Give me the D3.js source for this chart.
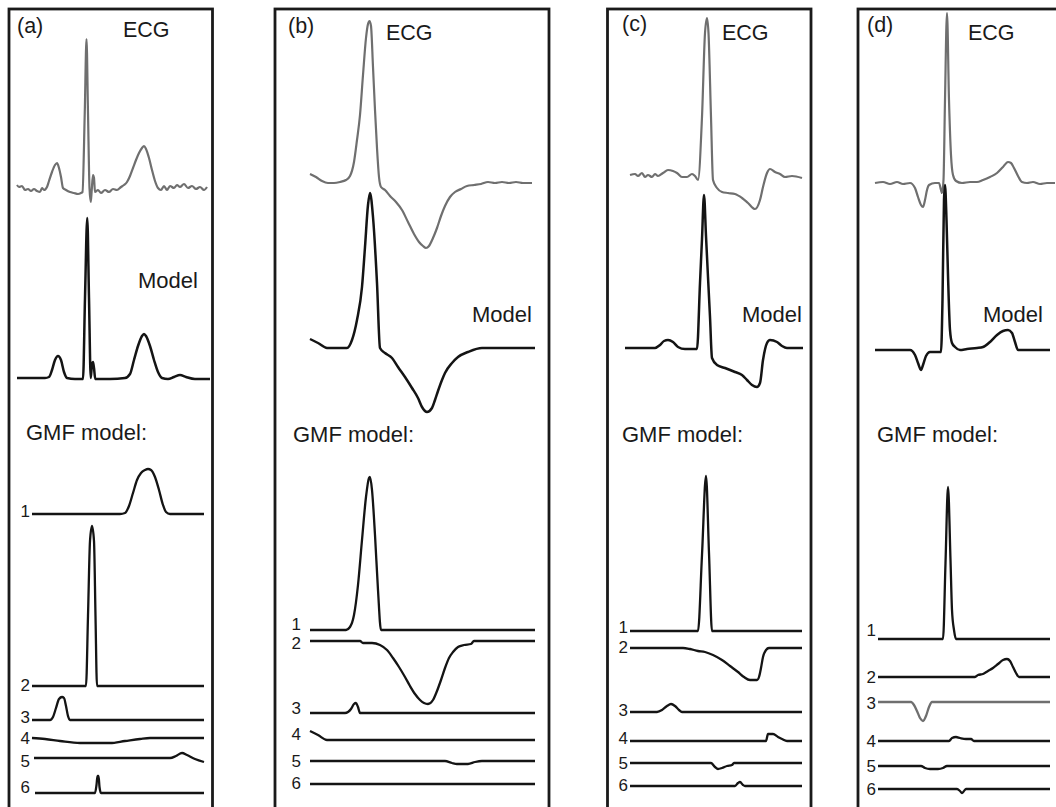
<!DOCTYPE html>
<html>
<head>
<meta charset="utf-8">
<script src="https://cdn.jsdelivr.net/npm/d3@7"></script>
<style>
  html, body { margin: 0; padding: 0; background: #fff; }
  svg { display: block; }
  text { font-family: "Liberation Sans", Arial, Helvetica, sans-serif; fill: #1a1a1a; }
</style>
</head>
<body>
<svg id="chart" width="1056" height="807"></svg>
<script>
// ---- Data: time in ms, amplitude in mV (relative to each trace's baseline) ----
const panelTags = ["(a)", "(b)", "(c)", "(d)"];
const componentLabels = ["1", "2", "3", "4", "5", "6"];

// Panel (a)
const ecgA = [[0,0.03],[8,0.01],[20,0.02],[32,-0.02],[44,-0.01],[56,-0.03],[68,-0.01],[80,-0.03],[92,-0.04],[100,0],[108,-0.02],[120,0.01],[128,0.07],[140,0.16],[152,0.23],[160,0.25],[168,0.2],[176,0.11],[184,0],[196,-0.02],[212,-0.04],[228,-0.05],[244,-0.06],[256,-0.05],[262,-0.04],[271,0.75],[278,1.49],[284,0.75],[290,0.0],[295,-0.14],[299,-0.02],[304,0.13],[308,0.1],[312,-0.04],[324,-0.02],[336,-0.05],[352,-0.02],[368,-0.04],[384,-0.01],[400,-0.02],[416,0.01],[428,0.03],[440,0.06],[452,0.12],[464,0.2],[476,0.28],[488,0.35],[500,0.4],[508,0.42],[516,0.39],[528,0.3],[540,0.18],[552,0.07],[564,0],[576,-0.02],[588,0.02],[600,-0.02],[612,0.02],[628,0],[640,0.03],[652,0.01],[668,0.04],[684,0],[700,0.02],[716,-0.01],[732,0.01],[748,-0.02],[760,0.01]];
const modelA = [[0,0],[52,0],[112,0],[128,0.01],[140,0.08],[152,0.18],[164,0.22],[176,0.18],[188,0.06],[200,0],[232,-0.01],[264,-0.01],[272,0.8],[281,1.6],[288,0.8],[295,0],[300,0.14],[304,0.16],[308,0.1],[313,-0.01],[372,-0.01],[432,0],[452,0.04],[468,0.18],[484,0.32],[500,0.42],[508,0.44],[516,0.42],[532,0.32],[548,0.18],[564,0.06],[580,0],[604,-0.01],[628,0.01],[652,0.03],[676,0.01],[712,-0.01],[772,-0.01]];
const gmfA = [
  [[60,0],[412,0],[432,0.01],[448,0.08],[464,0.21],[480,0.34],[496,0.41],[512,0.44],[524,0.45],[536,0.44],[552,0.37],[568,0.24],[584,0.09],[596,0.02],[612,0],[748,0]],
  [[60,0],[276,0],[284,0.7],[292,1.45],[300,1.6],[308,1.45],[314,0.7],[320,0],[748,0]],
  [[60,0],[132,0],[144,0.03],[156,0.12],[168,0.21],[180,0.23],[188,0.22],[196,0.14],[204,0.04],[212,0],[748,0]],
  [[60,0],[112,-0.01],[172,-0.03],[252,-0.05],[372,-0.05],[432,-0.03],[492,-0.01],[532,0],[748,0]],
  [[68,0],[612,0],[636,0.02],[660,0.05],[680,0.03],[712,-0.01],[748,-0.04]],
  [[72,0],[312,0],[318,0.08],[322,0.17],[326,0.17],[330,0.06],[336,0],[748,0]]
];

// Panel (b)
const ecgB = [[0,0.09],[24,0.06],[48,0.02],[72,0],[96,0],[120,0.01],[144,0.03],[160,0.07],[176,0.21],[188,0.43],[200,0.68],[212,1.08],[224,1.45],[232,1.59],[238,1.62],[244,1.57],[252,1.16],[260,0.73],[268,0.35],[276,0.06],[284,-0.04],[300,-0.07],[320,-0.13],[344,-0.19],[368,-0.27],[392,-0.39],[416,-0.51],[436,-0.59],[452,-0.63],[464,-0.65],[476,-0.63],[492,-0.55],[508,-0.45],[524,-0.33],[540,-0.23],[560,-0.14],[580,-0.09],[604,-0.06],[628,-0.03],[656,-0.02],[684,-0.01],[712,0.01],[740,0],[768,0.01],[796,0],[824,0.01],[852,0],[888,0]];
const modelB = [[0,0.09],[32,0.05],[68,0],[148,0],[168,0.08],[188,0.28],[208,0.61],[220,1.01],[232,1.43],[240,1.55],[252,1.31],[268,0.65],[280,0],[300,-0.05],[328,-0.1],[352,-0.19],[380,-0.29],[408,-0.4],[432,-0.5],[448,-0.59],[468,-0.64],[488,-0.6],[500,-0.52],[512,-0.43],[528,-0.32],[540,-0.25],[568,-0.15],[592,-0.09],[632,-0.04],[688,0],[900,0]];
const gmfB = [
  [[0,0],[144,0],[160,0.03],[176,0.15],[192,0.45],[208,0.9],[224,1.33],[236,1.52],[240,1.53],[248,1.4],[260,0.95],[272,0.4],[284,0],[900,0]],
  [[0,0],[200,0],[212,-0.02],[248,-0.02],[280,-0.04],[308,-0.09],[332,-0.17],[356,-0.26],[380,-0.36],[400,-0.45],[420,-0.53],[440,-0.59],[456,-0.62],[472,-0.63],[492,-0.59],[508,-0.5],[524,-0.39],[540,-0.27],[556,-0.17],[572,-0.11],[592,-0.06],[616,-0.04],[644,-0.03],[656,0],[900,0]],
  [[0,0],[140,0],[152,0.01],[164,0.04],[176,0.09],[184,0.1],[192,0.06],[200,0],[900,0]],
  [[0,0.09],[32,0.05],[68,0],[900,0]],
  [[0,0],[540,0],[568,-0.02],[588,-0.03],[632,-0.03],[660,-0.01],[688,0],[900,0]],
  [[0,0],[900,0]]
];

// Panel (c)
const ecgC = [[20,0.01],[40,0.02],[52,0],[68,0.03],[80,-0.01],[92,0.01],[108,-0.01],[120,0.02],[132,0],[152,0.03],[172,0.06],[192,0.05],[208,0.03],[228,-0.01],[248,-0.01],[268,0.02],[280,0],[292,-0.04],[308,0.59],[320,1.43],[328,1.58],[334,1.43],[344,0.59],[352,-0.04],[368,-0.12],[388,-0.16],[412,-0.17],[440,-0.18],[468,-0.22],[492,-0.27],[520,-0.33],[540,-0.24],[552,-0.11],[568,0.03],[580,0.07],[600,0.04],[620,0.02],[640,-0.01],[668,0],[708,-0.02]];
const modelC = [[0,0],[120,0],[140,0.03],[156,0.07],[172,0.08],[192,0.06],[212,0.01],[240,-0.01],[288,-0.01],[300,0.65],[308,1.09],[316,1.53],[324,1.12],[332,0.71],[340,0.31],[348,-0.1],[368,-0.17],[400,-0.2],[440,-0.24],[468,-0.27],[488,-0.32],[508,-0.37],[528,-0.39],[540,-0.35],[552,-0.12],[568,0.05],[580,0.08],[608,0.06],[628,0.02],[648,0],[712,0]];
const gmfC = [
  [[20,0],[292,0],[308,0.76],[324,1.55],[336,0.78],[348,0],[708,0]],
  [[20,0],[232,0],[260,-0.01],[292,-0.03],[320,-0.04],[352,-0.07],[388,-0.12],[420,-0.18],[452,-0.24],[476,-0.29],[500,-0.32],[528,-0.32],[536,-0.29],[544,-0.2],[552,-0.09],[564,-0.02],[576,0],[708,0]],
  [[20,0],[128,0],[148,0.02],[168,0.06],[184,0.08],[200,0.06],[216,0.02],[228,0],[708,0]],
  [[20,0],[564,0],[572,0.07],[592,0.07],[612,0.04],[628,0.02],[648,0],[708,0]],
  [[20,0],[344,0],[360,-0.04],[372,-0.06],[388,-0.05],[408,-0.03],[428,-0.02],[436,0],[708,0]],
  [[20,0],[440,0],[452,0.03],[460,0.04],[472,0.01],[480,0],[708,0]]
];

// Panel (d)
const ecgD = [[0,0],[32,0.01],[60,-0.01],[88,0.01],[112,-0.01],[140,0],[160,-0.05],[172,-0.14],[184,-0.22],[192,-0.24],[200,-0.17],[208,-0.07],[216,-0.02],[240,0],[256,0],[264,-0.07],[268,-0.1],[274,0.03],[280,0.83],[288,1.7],[296,0.83],[304,0.28],[312,0.08],[324,0.02],[348,0],[380,0.01],[408,0.01],[432,0.03],[460,0.06],[488,0.1],[512,0.16],[532,0.21],[544,0.2],[556,0.15],[572,0.07],[588,0.01],[608,0],[632,0.01],[660,-0.01],[688,0],[720,0]];
const modelD = [[0,0],[140,0],[160,-0.05],[172,-0.13],[184,-0.2],[192,-0.15],[204,-0.06],[220,-0.02],[264,-0.02],[270,0.5],[276,1.5],[280,1.65],[286,1.3],[292,0.75],[300,0.2],[308,0.07],[320,0.03],[340,0],[368,0.01],[408,0.02],[432,0.03],[460,0.08],[488,0.15],[512,0.19],[532,0.2],[548,0.17],[560,0.08],[572,0],[700,0]];
const gmfD = [
  [[12,0],[272,0],[282,0.76],[292,1.52],[302,0.79],[308,0.29],[316,0.09],[324,0],[700,0]],
  [[12,0],[400,0],[412,0.02],[432,0.03],[452,0.06],[472,0.09],[492,0.13],[512,0.17],[528,0.18],[540,0.16],[552,0.1],[564,0.04],[576,0],[700,0]],
  [[12,0],[144,0],[156,-0.03],[168,-0.09],[180,-0.16],[192,-0.19],[204,-0.14],[216,-0.05],[228,0],[700,0]],
  [[12,0],[296,0],[308,0.03],[324,0.04],[340,0.03],[364,0.02],[384,0.02],[396,0],[700,0]],
  [[12,0],[184,0],[200,-0.02],[220,-0.03],[252,-0.03],[272,-0.02],[288,0],[700,0]],
  [[12,0],[328,0],[340,-0.02],[348,-0.04],[356,-0.02],[364,0],[700,0]]
];

// ---- Layout (pixels) ----
const PX_PER_MS = 0.25;   // horizontal scale
const PX_PER_MV = 100;    // vertical scale
const layout = [
  { box: [9, 212.5],  x0: 17,  ecgBase: 188, modelBase: 378, gmfBase: [514,686,720,738,758,793], numX: 30,  numY: [511,685,717,738,761,787],
    tag: [17,33], ecgText: [123,37], modelText: [138,288], gmfText: [26,440], grayComponent: -1 },
  { box: [275, 549],  x0: 310, ecgBase: 183, modelBase: 348, gmfBase: [630,641,713,740,761,784], numX: 301, numY: [624,643,708,734,761,783],
    tag: [288,33], ecgText: [386,40], modelText: [472,322], gmfText: [293,442], grayComponent: -1 },
  { box: [607.5, 811], x0: 625, ecgBase: 176, modelBase: 348, gmfBase: [631,648,712,741,763,786], numX: 628, numY: [627,647,710,738,763,785],
    tag: [622,31], ecgText: [722,40], modelText: [742,322], gmfText: [622,442], grayComponent: -1 },
  { box: [858, 1075], x0: 875, ecgBase: 183, modelBase: 350, gmfBase: [639,677,702,741,766,789], numX: 876, numY: [630,677,703,741,766,789],
    tag: [867,32], ecgText: [968,40], modelText: [983,322], gmfText: [877,442], grayComponent: 2 }
];
const ecgSeries = [ecgA, ecgB, ecgC, ecgD];
const modelSeries = [modelA, modelB, modelC, modelD];
const gmfSeries = [gmfA, gmfB, gmfC, gmfD];

const ECG_COLOR = "#6f6f6f";
const INK = "#141414";

const svg = d3.select("#chart");

layout.forEach((L, i) => {
  const g = svg.append("g");

  // panel frame, open past the bottom edge
  g.append("rect")
    .attr("x", L.box[0]).attr("y", 9)
    .attr("width", L.box[1] - L.box[0]).attr("height", 830)
    .attr("fill", "none").attr("stroke", "#1a1a1a").attr("stroke-width", 2.8);

  const x = d3.scaleLinear().domain([0, 1000]).range([L.x0, L.x0 + 1000 * PX_PER_MS]);
  const yFor = base => d3.scaleLinear().domain([0, 1]).range([base, base - PX_PER_MV]);
  const lineFor = y => d3.line()
    .x(d => x(d[0])).y(d => y(d[1]))
    .curve(d3.curveMonotoneX);

  // recorded ECG beat
  g.append("path")
    .attr("d", lineFor(yFor(L.ecgBase))(ecgSeries[i]))
    .attr("fill", "none").attr("stroke", ECG_COLOR).attr("stroke-width", 2.2)
    .attr("stroke-linejoin", "round");

  // fitted model
  g.append("path")
    .attr("d", lineFor(yFor(L.modelBase))(modelSeries[i]))
    .attr("fill", "none").attr("stroke", INK).attr("stroke-width", 2.5)
    .attr("stroke-linejoin", "round");

  // individual GMF components
  gmfSeries[i].forEach((comp, k) => {
    g.append("path")
      .attr("d", lineFor(yFor(L.gmfBase[k]))(comp))
      .attr("fill", "none")
      .attr("stroke", k === L.grayComponent ? ECG_COLOR : INK)
      .attr("stroke-width", 2.3)
      .attr("stroke-linejoin", "round");
    g.append("text")
      .attr("x", L.numX).attr("y", L.numY[k])
      .attr("text-anchor", "end").attr("dominant-baseline", "central")
      .attr("font-size", 17)
      .text(componentLabels[k]);
  });

  // captions
  g.append("text").attr("x", L.tag[0]).attr("y", L.tag[1]).attr("font-size", 21.5).text(panelTags[i]);
  g.append("text").attr("x", L.ecgText[0]).attr("y", L.ecgText[1]).attr("font-size", 21.5).text("ECG");
  g.append("text").attr("x", L.modelText[0]).attr("y", L.modelText[1]).attr("font-size", 22).text("Model");
  g.append("text").attr("x", L.gmfText[0]).attr("y", L.gmfText[1]).attr("font-size", 22).text("GMF model:");
});
</script>
</body>
</html>
